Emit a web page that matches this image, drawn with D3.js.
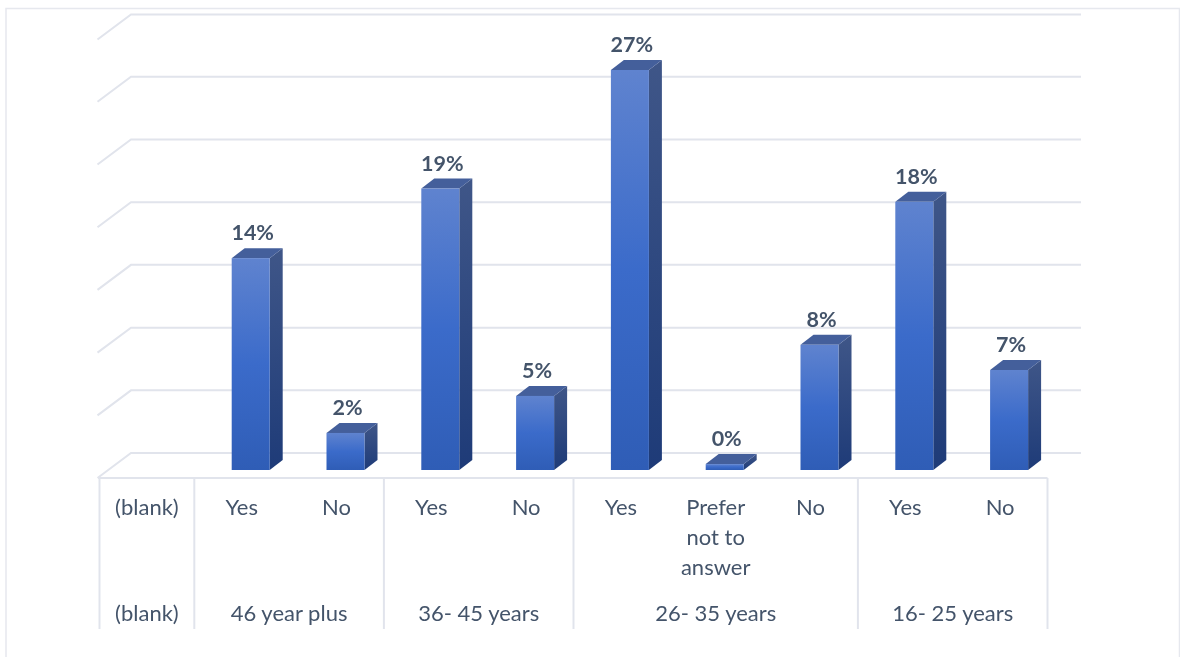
<!DOCTYPE html>
<html><head><meta charset="utf-8">
<script src="https://cdn.jsdelivr.net/npm/d3@7"></script>
<style>
html,body{margin:0;padding:0;background:#fff;overflow:hidden}
svg{display:block;filter:blur(0.4px)}
text{font-family:Lato,"Open Sans",sans-serif;fill:#44546a}
</style></head><body>
<svg id="c" width="1180" height="657"></svg>
<script>
const answers = ["(blank)","Yes","No","Yes","No","Yes","Prefer not to answer","No","Yes","No"];
const groups = ["(blank)","46 year plus","36- 45 years","26- 35 years","16- 25 years"];
const groupSizes = [1,2,2,3,2];
const percentLabels = [null,"14%","2%","19%","5%","27%",  "0%","8%","18%","7%"];
const barValues =     [null,14.3,2.5,19,5,27,0.4,8.45,18.1,6.75];
const gridTicks = [0,4.23,8.46,12.7,16.93,21.16,25.4,29.6];

const svg = d3.select("#c");
const defs = svg.append("defs");
function grad(id, stops){
  const g = defs.append("linearGradient").attr("id",id).attr("x1",0).attr("y1",0).attr("x2",0).attr("y2",1);
  stops.forEach(s=>g.append("stop").attr("offset",s[0]).attr("stop-color",s[1]));
}
grad("front",[[0,"#5f83cf"],[0.5,"#3b6bca"],[1,"#2f5db6"]]);
grad("side",[[0,"#3f5688"],[1,"#1e3b78"]]);

const x = d3.scaleBand().domain(answers.map((d,i)=>i)).range([99.5,1047.5]);
const y = d3.scaleLinear().domain([0,27]).range([470,70]);
const gridCol = "#e1e4ec";
const backDy = -17, floorDx = 32.5, floorFront = 478;

const grid = svg.append("g").attr("fill","none").attr("stroke",gridCol).attr("stroke-width",2);
svg.append("path").attr("d","M6,657V8.5H1179.5V657").attr("fill","none").attr("stroke","#e6e8ee").attr("stroke-width",1.5);

gridTicks.forEach(t=>{
  const yb = y(t)+backDy;
  grid.append("path").attr("d",d3.line()([[x.range()[0]-2,yb+25],[x.range()[0]+floorDx-1,yb],[1081,yb]]));
});

const axisG = svg.append("g").attr("stroke",gridCol).attr("stroke-width",2).attr("fill","none");
axisG.append("line").attr("x1",98).attr("x2",x.range()[1]).attr("y1",floorFront).attr("y2",floorFront);
let cum = 0;
const groupBounds = [x(0)];
groupSizes.forEach(n=>{cum+=n; groupBounds.push(cum<answers.length?x(cum):x.range()[1]);});
groupBounds.forEach(b=>axisG.append("line").attr("x1",b).attr("x2",b).attr("y1",floorFront).attr("y2",629));

const bw = 38, dx = 13, dy = -10, barOff = -10;
const data = answers.map((a,i)=>({i,v:barValues[i],l:percentLabels[i]})).filter(d=>d.v!==null);
const bars = svg.append("g").selectAll("g").data(data).join("g");
const cx = d=>x(d.i)+x.bandwidth()/2+barOff;
bars.append("path").attr("fill","url(#side)")
  .attr("d",d=>{const l=cx(d)+bw;return `M${l},${y(0)}L${l},${y(d.v)}L${l+dx},${y(d.v)+dy}L${l+dx},${y(0)+dy}Z`;});
bars.append("path").attr("fill","#445f9b")
  .attr("d",d=>{const l=cx(d);const t=y(d.v);return `M${l},${t}L${l+dx},${t+dy}L${l+bw+dx},${t+dy}L${l+bw},${t}Z`;});
bars.append("rect").attr("fill","url(#front)")
  .attr("x",cx).attr("y",d=>y(d.v)).attr("width",bw).attr("height",d=>y(0)-y(d.v));
bars.append("text").attr("x",d=>cx(d)+bw/2+2).attr("y",d=>y(d.v)+dy-8)
  .attr("text-anchor","middle").attr("font-size",21.5).attr("font-weight",700).text(d=>d.l);

const wrapped = {"Prefer not to answer":["Prefer","not to","answer"]};
answers.forEach((a,i)=>{
  const lines = wrapped[a]||[a];
  lines.forEach((s,k)=>svg.append("text").attr("x",x(i)+x.bandwidth()/2).attr("y",515+k*30)
    .attr("text-anchor","middle").attr("font-size",22).text(s));
});
groups.forEach((g,i)=>{
  svg.append("text").attr("x",(groupBounds[i]+groupBounds[i+1])/2).attr("y",621)
    .attr("text-anchor","middle").attr("font-size",22).text(g);
});
</script>
</body></html>
